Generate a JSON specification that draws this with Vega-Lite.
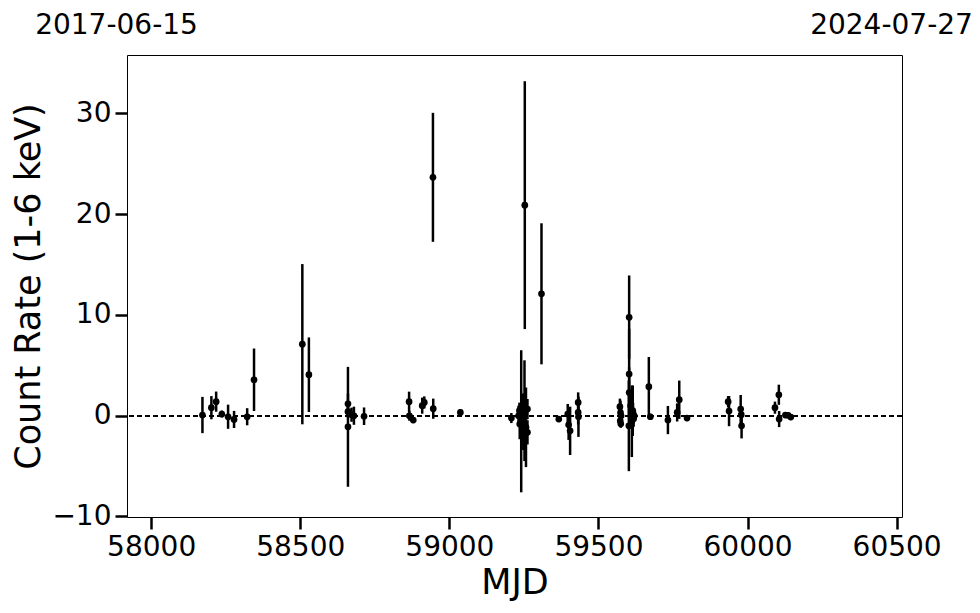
{
  "$schema": "https://vega.github.io/schema/vega-lite/v6.json",
  "width": 775,
  "height": 462,
  "autosize": {"type": "none"},
  "padding": {"left": 127, "top": 55, "right": 78, "bottom": 96},
  "background": "white",
  "config": {
    "font": "DejaVu Sans",
    "view": {"stroke": "black", "strokeWidth": 1},
    "axis": {"grid": false, "domain": false, "labelColor": "black", "titleColor": "black", "tickColor": "black", "labelFont": "DejaVu Sans", "titleFont": "DejaVu Sans", "titleFontWeight": "normal"}
  },
  "data": {"values": [
    {"mjd": 58172, "rate": 0.07, "err": 1.8},
    {"mjd": 58202, "rate": 0.8, "err": 1.15},
    {"mjd": 58218, "rate": 1.4, "err": 1.0},
    {"mjd": 58237, "rate": 0.17, "err": 0.35},
    {"mjd": 58258, "rate": -0.1, "err": 1.2},
    {"mjd": 58278, "rate": -0.37, "err": 0.85},
    {"mjd": 58322, "rate": -0.1, "err": 0.85},
    {"mjd": 58345, "rate": 3.57, "err": 3.1},
    {"mjd": 58507, "rate": 7.1, "err": 7.95},
    {"mjd": 58529, "rate": 4.07, "err": 3.7},
    {"mjd": 58660, "rate": 1.19, "err": 1.0},
    {"mjd": 58660, "rate": 0.4, "err": 0.6},
    {"mjd": 58660, "rate": -1.1, "err": 5.95},
    {"mjd": 58672, "rate": 0.1, "err": 0.7},
    {"mjd": 58680, "rate": 0.0, "err": 0.9},
    {"mjd": 58714, "rate": -0.05, "err": 0.87},
    {"mjd": 58865, "rate": 1.39, "err": 1.0},
    {"mjd": 58866, "rate": 0.0, "err": 0.5},
    {"mjd": 58879, "rate": -0.43, "err": 0.3},
    {"mjd": 58909, "rate": 1.0, "err": 0.8},
    {"mjd": 58916, "rate": 1.32, "err": 0.6},
    {"mjd": 58945, "rate": 23.66, "err": 6.4},
    {"mjd": 58946, "rate": 0.7, "err": 1.0},
    {"mjd": 59037, "rate": 0.33, "err": 0.3},
    {"mjd": 59208, "rate": -0.23, "err": 0.5},
    {"mjd": 59232, "rate": 0.0, "err": 1.0},
    {"mjd": 59235, "rate": 0.5, "err": 0.8},
    {"mjd": 59236, "rate": -0.83, "err": 1.5},
    {"mjd": 59241, "rate": -0.55, "err": 7.05},
    {"mjd": 59245, "rate": 0.2, "err": 2.0},
    {"mjd": 59248, "rate": -1.9, "err": 1.5},
    {"mjd": 59250, "rate": -0.3, "err": 2.5},
    {"mjd": 59252, "rate": 0.5, "err": 5.0},
    {"mjd": 59253, "rate": 20.9, "err": 12.3},
    {"mjd": 59257, "rate": -1.15, "err": 3.95},
    {"mjd": 59262, "rate": 0.66, "err": 1.0},
    {"mjd": 59262, "rate": -1.65, "err": 1.2},
    {"mjd": 59309, "rate": 12.1, "err": 7.0},
    {"mjd": 59367, "rate": -0.33, "err": 0.3},
    {"mjd": 59397, "rate": 0.17, "err": 1.0},
    {"mjd": 59400, "rate": -0.9, "err": 1.5},
    {"mjd": 59405, "rate": -1.5, "err": 2.4},
    {"mjd": 59432, "rate": 1.32, "err": 1.0},
    {"mjd": 59432, "rate": 0.33, "err": 1.2},
    {"mjd": 59433, "rate": -0.1, "err": 2.0},
    {"mjd": 59572, "rate": 0.9, "err": 0.8},
    {"mjd": 59573, "rate": -0.5, "err": 0.6},
    {"mjd": 59574, "rate": 0.3, "err": 1.2},
    {"mjd": 59575, "rate": -0.8, "err": 0.4},
    {"mjd": 59576, "rate": 0.0, "err": 1.0},
    {"mjd": 59602, "rate": -1.0, "err": 4.5},
    {"mjd": 59603, "rate": 9.77, "err": 4.15},
    {"mjd": 59603, "rate": 4.14, "err": 4.5},
    {"mjd": 59603, "rate": 2.3, "err": 2.5},
    {"mjd": 59608, "rate": 1.0, "err": 1.2},
    {"mjd": 59612, "rate": -0.55, "err": 3.55},
    {"mjd": 59615, "rate": 0.5, "err": 2.5},
    {"mjd": 59616, "rate": 0.3, "err": 1.0},
    {"mjd": 59618, "rate": -0.3, "err": 0.8},
    {"mjd": 59620, "rate": 0.0, "err": 0.5},
    {"mjd": 59669, "rate": 2.88, "err": 2.95},
    {"mjd": 59674, "rate": -0.1, "err": 0.3},
    {"mjd": 59733, "rate": -0.43, "err": 1.4},
    {"mjd": 59764, "rate": 0.33, "err": 0.9},
    {"mjd": 59771, "rate": 1.59, "err": 1.9},
    {"mjd": 59797, "rate": -0.23, "err": 0.3},
    {"mjd": 59935, "rate": 1.39, "err": 0.56},
    {"mjd": 59938, "rate": 0.46, "err": 1.5},
    {"mjd": 59977, "rate": 0.66, "err": 1.4},
    {"mjd": 59979, "rate": 0.1, "err": 0.8},
    {"mjd": 59980, "rate": -1.0, "err": 1.25},
    {"mjd": 60092, "rate": 0.8, "err": 0.6},
    {"mjd": 60105, "rate": 2.08, "err": 1.0},
    {"mjd": 60106, "rate": -0.33, "err": 0.8},
    {"mjd": 60127, "rate": 0.07, "err": 0.3},
    {"mjd": 60136, "rate": 0.05, "err": 0.3},
    {"mjd": 60145, "rate": -0.13, "err": 0.3}
  ]},
  "layer": [
    {
      "mark": {"type": "rule", "color": "black", "strokeWidth": 1.3, "strokeDash": [5, 3]},
      "encoding": {"y": {"datum": 0, "type": "quantitative",
        "scale": {"domain": [-10.05, 35.8], "nice": false, "zero": false},
        "axis": {"title": "Count Rate (1-6 keV)", "values": [-10, 0, 10, 20, 30], "tickSize": 12, "tickWidth": 2.5, "labelFontSize": 28, "labelPadding": 4, "titleFontSize": 35, "titlePadding": 5}}}
    },
    {
      "mark": {"type": "errorbar", "color": "black", "thickness": 2.5},
      "encoding": {
        "x": {"field": "mjd", "type": "quantitative",
          "scale": {"domain": [57919, 60518], "nice": false, "zero": false},
          "axis": {"orient": "bottom", "title": "MJD", "values": [58000, 58500, 59000, 59500, 60000, 60500], "format": "d", "tickSize": 12, "tickWidth": 2.5, "labelFontSize": 28, "labelPadding": 4, "labelFlush": false, "titleFontSize": 35, "titlePadding": 4}},
        "y": {"field": "rate", "type": "quantitative",
          "scale": {"domain": [-10.05, 35.8], "nice": false, "zero": false},
          "axis": {"title": "Count Rate (1-6 keV)", "values": [-10, 0, 10, 20, 30], "tickSize": 12, "tickWidth": 2.5, "labelFontSize": 28, "labelPadding": 4, "titleFontSize": 35, "titlePadding": 5}},
        "yError": {"field": "err"}
      }
    },
    {
      "mark": {"type": "circle", "color": "black", "opacity": 1, "size": 45},
      "encoding": {
        "x": {"field": "mjd", "type": "quantitative",
          "scale": {"domain": [57919, 60518], "nice": false, "zero": false},
          "axis": {"orient": "top", "title": null, "values": [57919, 60518], "ticks": false, "labelFlush": false, "labelFontSize": 28, "labelPadding": 16, "labelOffset": -11, "labelExpr": "utcFormat((datum.value - 40587) * 86400000, '%Y-%m-%d')"}},
        "y": {"field": "rate", "type": "quantitative",
          "axis": {"title": "Count Rate (1-6 keV)", "values": [-10, 0, 10, 20, 30], "tickSize": 12, "tickWidth": 2.5, "labelFontSize": 28, "labelPadding": 4, "titleFontSize": 35, "titlePadding": 5}}
      }
    }
  ],
  "resolve": {"axis": {"x": "independent"}}
}
